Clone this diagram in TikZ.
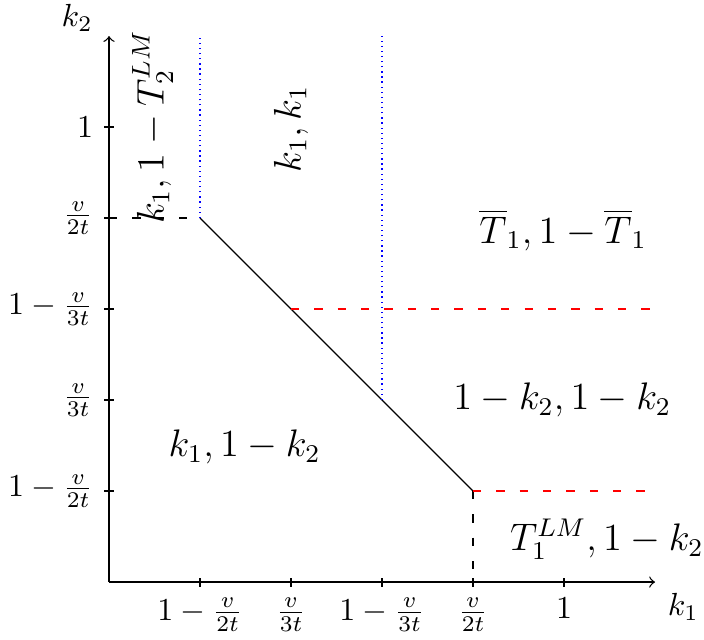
\documentclass[tikz,border=0pt]{standalone}
\usepackage{amsmath}
\usepackage{amssymb}
\usepackage{xcolor}
\usepackage{tikz}
\usetikzlibrary{arrows,positioning,calc}

\begin{document}
\begin{tikzpicture}[>=to]
        \useasboundingbox (-1.198,-0.626) rectangle (6.538,6.396);
        \tikzset{region/.style={font=\large},
                 bnddash/.style={dash pattern=on 2.6pt off 4.7pt},
                 bnddot/.style={dash pattern=on 0.4pt off 1.2pt, blue}}

        % Axes
        \coordinate (O) at (0,0);
        \coordinate (xend) at (6,0);
        \coordinate (yend) at (0,6);
        \draw[->] (O) -- (xend);
        \draw[->] (O) -- (yend);
        \node (k1lab) at (6.31,-0.27) {$k_1$};
        \node (k2lab) at (-0.35,6.2) {$k_2$};

        % Ticks and tick labels
        \foreach \i/\lab in {1/{$1-\frac{v}{2t}$}, 2/{$\frac{v}{3t}$}, 3/{$1-\frac{v}{3t}$}, 4/{$\frac{v}{2t}$}, 5/{$1$}} {
            \draw (\i,-0.05) -- (\i,0.05);
            \node[below] (xt\i) at (\i,-0.05) {\lab};
            \draw (-0.05,\i) -- (0.05,\i);
            \node[left] (yt\i) at (-0.05,\i) {\lab};
        }

        % Kinks of the boundary
        \coordinate (A) at (1,4);
        \coordinate (B) at (4,1);
        \coordinate (C) at (2,3);
        \coordinate (D) at (3,2);

        % Boundary lines
        \draw[bnddash] (0,4) -- (A);
        \draw (A) -- (B);
        \draw[bnddash] (B) -- (4,0);
        \draw[bnddot] (A) -- (1,6);
        \draw[bnddot] (D) -- (3,6);
        \draw[bnddash, red] (C) -- (6,3);
        \draw[bnddash, red] (B) -- (6,1);

        % Region labels
        \node[region, rotate=90] (r1) at (0.48,5.0) {$k_1, 1-T_2^{LM}$};
        \node[region, rotate=90] (r2) at (2.0,4.98) {$k_1, k_1$};
        \node[region] (r3) at (4.99,3.87) {$\overline{T}_1, 1-\overline{T}_1$};
        \node[region] (r4) at (4.98,2.0) {$1-k_2, 1-k_2$};
        \node[region] (r5) at (1.49,1.48) {$k_1, 1-k_2$};
        \node[region] (r6) at (5.47,0.47) {$T_1^{LM}, 1-k_2$};
    \end{tikzpicture}
\end{document}
